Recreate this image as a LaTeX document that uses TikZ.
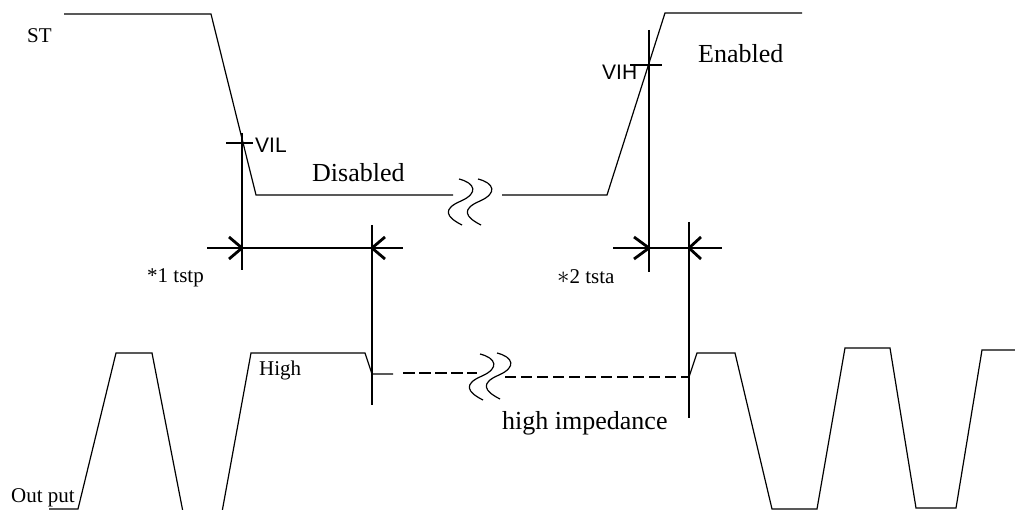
\documentclass[tikz,border=0pt]{standalone}
\usepackage{fontspec}
\setmainfont{Liberation Serif}
\newfontfamily\sansfnt{Liberation Sans}
\usetikzlibrary{positioning}

\tikzset{
  wave/.style={line width=1.2pt, line join=miter},
  marker/.style={line width=2.8pt},
  hiz/.style={line width=2.6pt, dash pattern=on 11pt off 5pt},
  lbl/.style={anchor=base west, inner sep=0pt, font=\fontsize{21}{24}\selectfont},
  biglbl/.style={lbl, font=\fontsize{26}{30}\selectfont},
  vlbl/.style={lbl, font=\sansfnt\fontsize{21}{24}\selectfont},
}

\begin{document}
\begin{tikzpicture}[x=1pt, y=-1pt]
\useasboundingbox (0,0) rectangle (1015,510);
% ST signal
\draw[wave] (64,14) -- (211,14) -- (256,195) -- (453,195);
\draw[wave] (502,195) -- (607,195) -- (665,13) -- (802,13);
% Out put signal
\draw[wave] (49,509) -- (78,509) -- (116,353) -- (152,353) -- (183,512);
\draw[wave] (222,512) -- (251,353) -- (365,353) -- (372,374) -- (393,374);
\draw[wave] (689,377) -- (697,353) -- (735,353) -- (772,509) -- (817,509)
  -- (845,348) -- (890,348) -- (916,508) -- (956,508) -- (982,350) -- (1016,350);
\draw[hiz, dash pattern=on 12pt off 4pt] (403,373) -- (477,373);
\draw[hiz, line width=2.3pt] (505,377) -- (688,377);
% break marks
\foreach \sx/\sy in {459/179, 478/179, 480/354, 497/353} {
  \draw[wave, shift={(\sx,\sy)}] (0,0) .. controls (16,4) and (20,14) .. (2,22)
    .. controls (-17,30) and (-13,38) .. (3,46);
}
% tstp
\coordinate (vilx) at (242,143);
\draw[marker] (226,143) -- (253,143);
\draw[marker] (242,133) -- (242,270);
\draw[marker] (207,248) -- (403,248);
\draw[marker] (372,225) -- (372,405);
\draw[marker] (229,237) -- (242,248) -- (229,259);
\draw[marker] (385,237) -- (372,248) -- (385,259);
% tsta
\coordinate (vihx) at (649,65);
\draw[marker] (630,65) -- (662,65);
\draw[marker] (649,30) -- (649,272);
\draw[marker] (613,248) -- (722,248);
\draw[marker] (689,222) -- (689,418);
\draw[marker] (634,237) -- (649,248) -- (634,259);
\draw[marker] (701,237) -- (689,248) -- (701,259);
% labels
\node[lbl] (st) at (27,43) {ST};
\node[lbl] (out) at (11,502) {Out put};
\node[lbl] (high) at (259,376) {High};
\node[biglbl] (dis) at (312,182) {Disabled};
\node[biglbl] (ena) at (698,63) {Enabled};
\node[biglbl] (himp) at (502,430) {high impedance};
\node[lbl] (tstp) at (147,283) {*1 tstp};
\node[lbl] (tsta) at (557,284) {{\fontsize{28}{30}\selectfont$\ast$}2 tsta};
\node[vlbl] (vil) at (255,153) {VIL};
\node[vlbl] (vih) at (602,80) {VIH};
\end{tikzpicture}
\end{document}
